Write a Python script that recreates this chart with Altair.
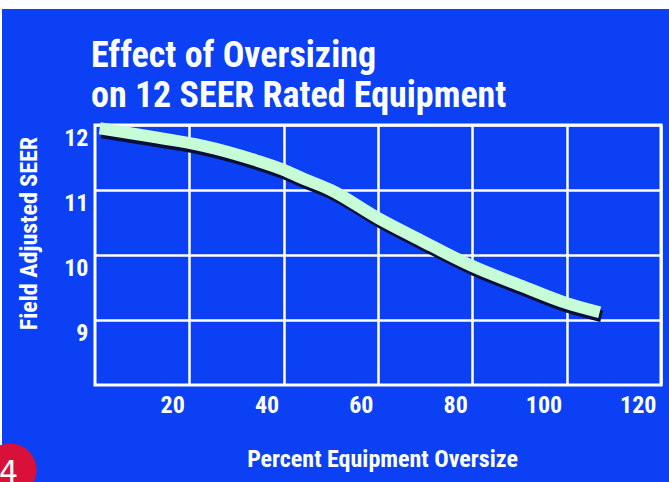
import altair as alt
import pandas as pd

# Field-adjusted SEER of 12 SEER equipment versus percent oversize
oversize = [1, 12, 23, 34, 40, 44, 50, 60, 69, 80, 91, 100, 107]
seer = [11.95, 11.82, 11.68, 11.46, 11.31, 11.18, 11.0, 10.57, 10.23, 9.83, 9.51, 9.26, 9.12]

x_ticks = [20, 40, 60, 80, 100, 120]
y_ticks = [9, 10, 11, 12]

title_lines = ["Effect of Oversizing", "on 12 SEER Rated Equipment"]

FONT = "'Roboto Condensed', 'DejaVu Sans Condensed', 'Liberation Sans Narrow', 'Open Sans', sans-serif"
BLUE = "#0B40F5"
MINT = "#C6FCD6"
SHADOW = "#0A0F3A"

df = pd.DataFrame({"oversize": oversize, "seer": seer})
one = pd.DataFrame({"k": [0]})

x_enc = alt.X(
    "oversize:Q",
    scale=alt.Scale(domain=[0, 120], nice=False, zero=False),
    axis=alt.Axis(
        values=x_ticks,
        format="d",
        title="Percent Equipment Oversize",
        titleX=287,
        titleY=81,
        titleBaseline="alphabetic",
        labelAlign="right",
        labelOffset=-5,
        labelPadding=8,
    ),
)
y_enc = alt.Y(
    "seer:Q",
    scale=alt.Scale(domain=[8, 12], nice=False, zero=False),
    axis=alt.Axis(
        values=y_ticks,
        format="d",
        title="Field Adjusted SEER",
        titleX=-59,
        titleY=108,
        titleBaseline="alphabetic",
        labelBaseline="top",
        labelOffset=1,
        labelPadding=7,
    ),
)

shadow = alt.Chart(df).mark_line(
    color=SHADOW, strokeWidth=12, interpolate="monotone", xOffset=2, yOffset=4, strokeCap="butt"
).encode(x=x_enc, y=y_enc)

curve = alt.Chart(df).mark_line(
    color=MINT, strokeWidth=12, interpolate="monotone", strokeCap="butt"
).encode(x="oversize:Q", y="seer:Q")

# two-line heading above the plot
heading_1 = alt.Chart(one).mark_text(
    text=title_lines[0], font=FONT, fontSize=36, fontWeight="bold", color="white",
    align="left", baseline="alphabetic",
).encode(x=alt.value(-4), y=alt.value(-58))
heading_2 = alt.Chart(one).mark_text(
    text=title_lines[1], font=FONT, fontSize=36, fontWeight="bold", color="white",
    align="left", baseline="alphabetic",
).encode(x=alt.value(-4), y=alt.value(-18))

# page edge strips and the page-number badge
top_strip = alt.Chart(one).mark_rect(color="white").encode(
    x=alt.value(-96), x2=alt.value(580), y=alt.value(-126), y2=alt.value(-116)
)
left_strip = alt.Chart(one).mark_rect(color="white").encode(
    x=alt.value(-96), x2=alt.value(-93), y=alt.value(-126), y2=alt.value(360)
)
badge = alt.Chart(one).mark_circle(color="#D8103A", opacity=1, size=2830).encode(
    x=alt.value(-85), y=alt.value(345)
)
badge_text = alt.Chart(one).mark_text(
    text="4", color="white", fontSize=30, font="DejaVu Sans", align="left", baseline="alphabetic"
).encode(x=alt.value(-96), y=alt.value(357))

chart = (
    alt.layer(top_strip, left_strip, shadow, curve, heading_1, heading_2, badge, badge_text)
    .properties(
        width=566,
        height=260,
        autosize=alt.AutoSizeParams(type="none"),
        padding={"left": 95, "top": 125, "right": 8, "bottom": 97},
        background=BLUE,
    )
    .configure_view(stroke="white", strokeWidth=3, fill=None)
    .configure_axis(
        grid=True,
        gridColor="white",
        gridWidth=2.5,
        gridOpacity=1,
        domain=False,
        ticks=False,
        labelFont=FONT,
        labelFontSize=24,
        labelFontWeight="bold",
        labelColor="white",
        titleFont=FONT,
        titleFontSize=24,
        titleFontWeight="bold",
        titleColor="white",
    )
)

chart.save("out.html", embed_options={"renderer": "svg", "actions": False})
